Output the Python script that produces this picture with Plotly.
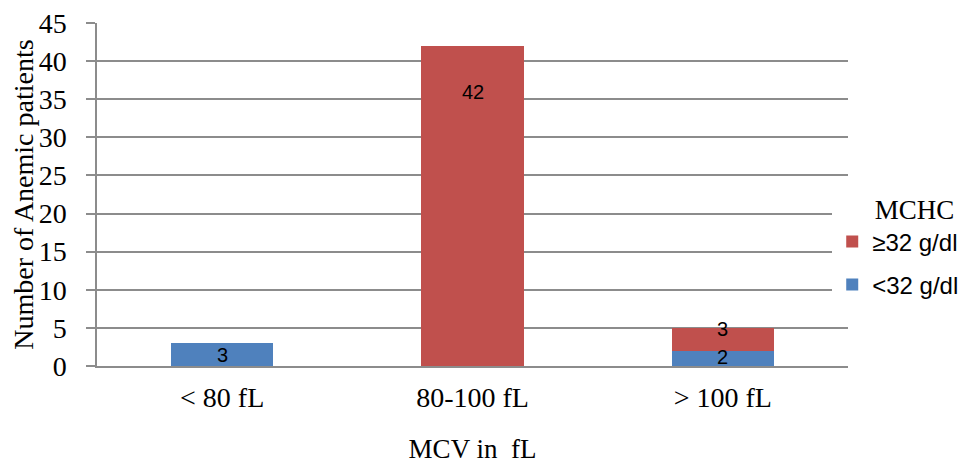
import plotly.graph_objects as go

categories = ["< 80 fL", "80-100 fL", "> 100 fL"]
low_mchc = [3, 0, 2]        # <32 g/dl
high_mchc = [0, 42, 3]      # ≥32 g/dl
y_ticks = [0, 5, 10, 15, 20, 25, 30, 35, 40, 45]

# data-label texts and where they sit (label anchor heights, as in the reference)
label_text = ["3", "42", "3", "2"]
label_cat = ["< 80 fL", "80-100 fL", "> 100 fL", "> 100 fL"]
label_pos = [1.4, 35.9, 4.9, 1.2]

BLUE = "#4F81BD"
RED = "#C0504D"
GRID = "#8C8C8C"
SERIF = "Liberation Serif, Times New Roman, serif"
SANS = "Liberation Sans, Arial, sans-serif"

fig = go.Figure()
fig.add_trace(go.Bar(
    x=categories, y=low_mchc, name="<32 g/dl", marker_color=BLUE,
    marker_line_width=0, legendgroup="a", legendrank=2,
))
fig.add_trace(go.Bar(
    x=categories, y=high_mchc, name="≥32 g/dl", marker_color=RED,
    marker_line_width=0, legendgroup="b", legendrank=1,
))

for t, c, p in zip(label_text, label_cat, label_pos):
    fig.add_annotation(x=c, y=p, xref="x", yref="y", text=t, showarrow=False,
                       font=dict(family=SANS, size=20, color="black"))

# page body adds an 8px offset; figure is made a little wider than the window
# so the legend never forces the plot area to shrink
fig.update_layout(
    barmode="stack",
    bargap=0.59,
    width=990, height=463,
    margin=dict(l=89, r=150, t=15, b=105),
    paper_bgcolor="white", plot_bgcolor="white",
    showlegend=True,
    legend=dict(
        x=0.979, xanchor="left", y=0.53, yanchor="top",
        traceorder="grouped", tracegroupgap=9,
        font=dict(family=SANS, size=24, color="black"),
        title=dict(text="\u00a0\u00a0\u00a0\u00a0\u00a0\u00a0MCHC",
                   font=dict(family=SERIF, size=27, color="black"), side="top"),
        itemwidth=30,
    ),
    xaxis=dict(
        showline=True, linecolor=GRID, linewidth=1.5,
        ticks="", tickfont=dict(family=SERIF, size=28, color="black"),
        ticklabelstandoff=6,
        title=dict(text="MCV in  fL", font=dict(family=SERIF, size=27, color="black"), standoff=27),
        automargin=False,
    ),
    yaxis=dict(
        range=[0, 45], tickvals=y_ticks, showgrid=True, gridcolor=GRID, gridwidth=1.5,
        showline=True, linecolor=GRID, linewidth=1.5,
        ticks="outside", ticklen=9, tickcolor=GRID, tickwidth=1.5,
        tickfont=dict(family=SERIF, size=28, color="black"),
        ticklabelstandoff=14, ticklabeloverflow="allow",
        title=dict(text="Number of Anemic patients", font=dict(family=SERIF, size=28, color="black"), standoff=0),
        zeroline=False, automargin=False,
    ),
)

fig.write_html("out.html")
